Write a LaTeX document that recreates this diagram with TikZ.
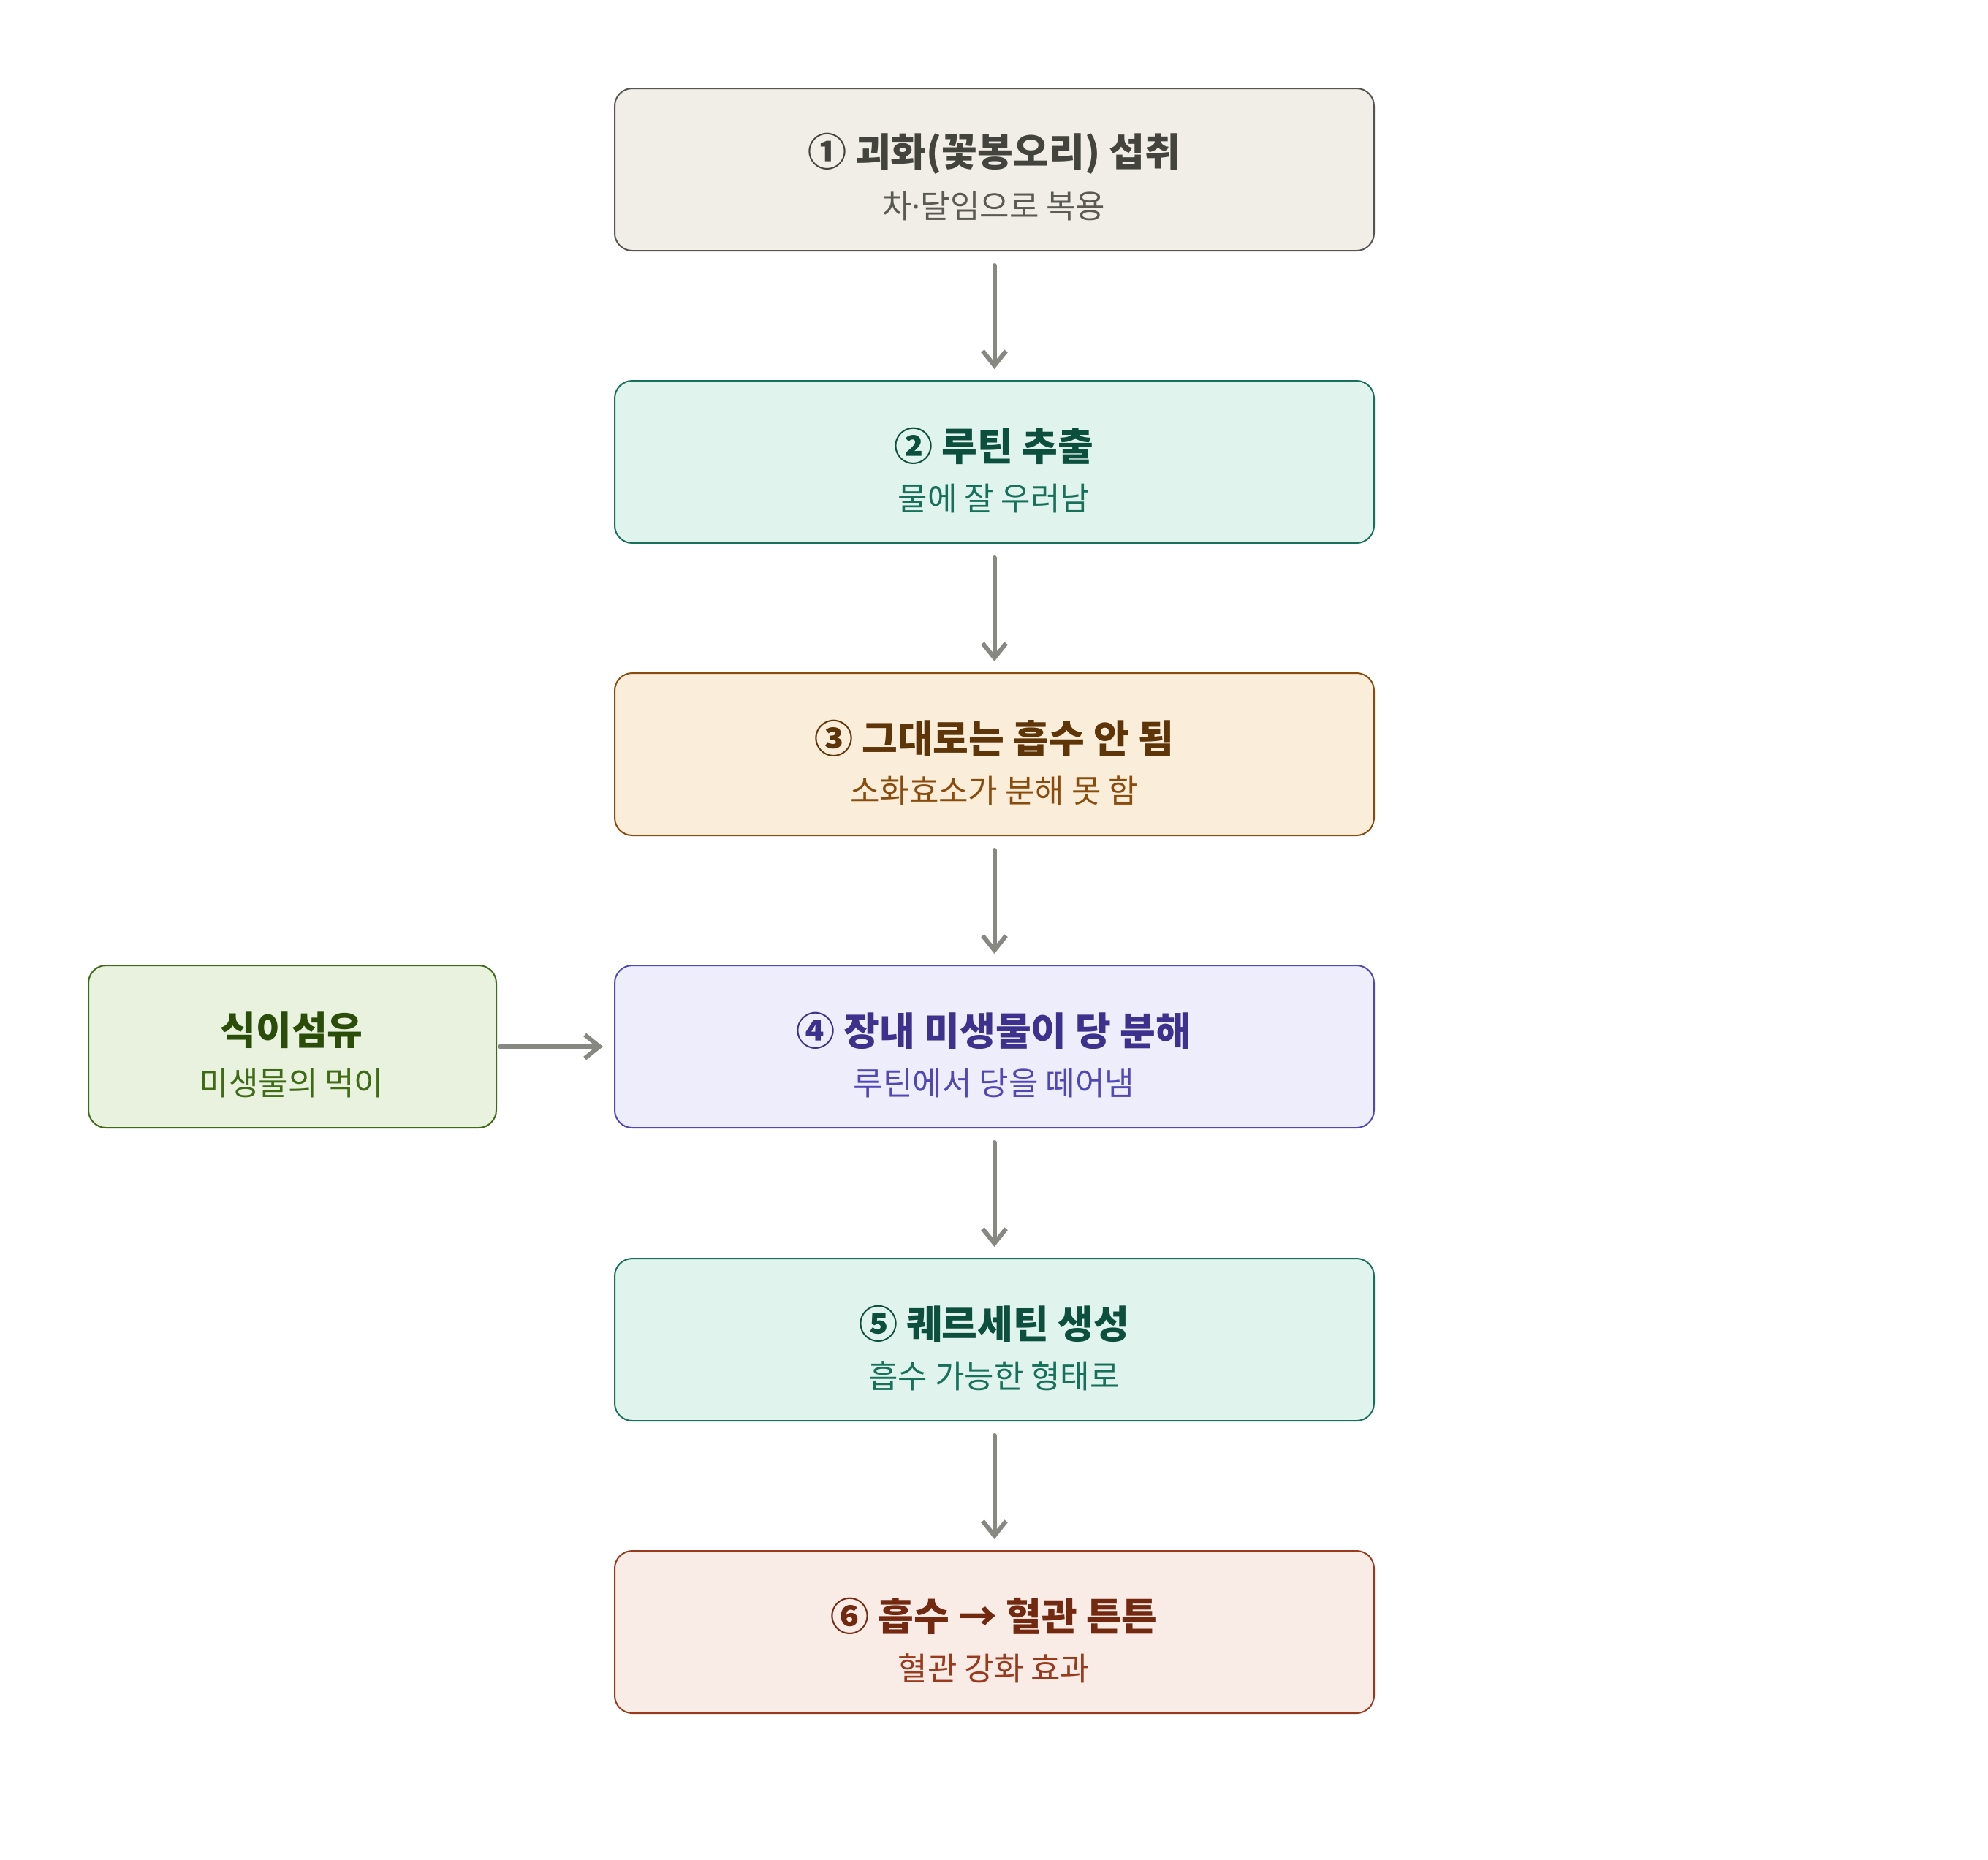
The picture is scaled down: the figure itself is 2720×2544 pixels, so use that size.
\documentclass[tikz,border=0pt]{standalone}
\usepackage{fontspec}
\setmainfont{Noto Sans CJK KR}
\newfontfamily\latinfont{Noto Sans}
\usetikzlibrary{arrows.meta}
\definecolor{arr}{HTML}{888883}
\definecolor{fA}{HTML}{F1EEE7}\definecolor{dA}{HTML}{55554F}\definecolor{tA}{HTML}{44443F}\definecolor{sA}{HTML}{5A5A55}
\definecolor{fB}{HTML}{E0F3EC}\definecolor{dB}{HTML}{17715A}\definecolor{tB}{HTML}{0B4F3C}\definecolor{sB}{HTML}{17705A}
\definecolor{fC}{HTML}{FAEDDA}\definecolor{dC}{HTML}{8A4C0C}\definecolor{tC}{HTML}{5E3508}\definecolor{sC}{HTML}{8A4C0C}
\definecolor{fD}{HTML}{EDEDFC}\definecolor{dD}{HTML}{5148B8}\definecolor{tD}{HTML}{3C318C}\definecolor{sD}{HTML}{5148B8}
\definecolor{fF}{HTML}{F9ECE6}\definecolor{dF}{HTML}{9A3A1C}\definecolor{tF}{HTML}{732810}\definecolor{sF}{HTML}{9A3A1C}
\definecolor{fG}{HTML}{E8F2DE}\definecolor{dG}{HTML}{3F6B14}\definecolor{tG}{HTML}{2B4D0A}\definecolor{sG}{HTML}{3F6B14}
\tikzset{
  boxstyle/.style={draw, line width=2pt, rounded corners=24pt, inner sep=0pt, anchor=north west},
  titlestyle/.style={font=\fontsize{53}{60}\selectfont\bfseries, inner sep=0pt, anchor=center},
  substyle/.style={font=\fontsize{44}{52}\selectfont, inner sep=0pt, anchor=center},
  flow/.style={draw=arr, line width=6pt, line cap=round, -{Straight Barb[length=20pt,width=32pt,line width=6pt]}}
}
\begin{document}
\begin{tikzpicture}[x=1pt,y=-1pt]
\useasboundingbox (0,0) rectangle (2720,2544);
% main boxes
\node[boxstyle, fill=fA, draw=dA, minimum width=1039pt, minimum height=222pt] (b1) at (840,120) {};
\node[boxstyle, fill=fB, draw=dB, minimum width=1039pt, minimum height=222pt] (b2) at (840,520) {};
\node[boxstyle, fill=fC, draw=dC, minimum width=1039pt, minimum height=222pt] (b3) at (840,920) {};
\node[boxstyle, fill=fD, draw=dD, minimum width=1039pt, minimum height=222pt] (b4) at (840,1320) {};
\node[boxstyle, fill=fB, draw=dB, minimum width=1039pt, minimum height=222pt] (b5) at (840,1721) {};
\node[boxstyle, fill=fF, draw=dF, minimum width=1039pt, minimum height=222pt] (b6) at (840,2121) {};
\node[boxstyle, fill=fG, draw=dG, minimum width=558pt, minimum height=222pt] (bg) at (120,1320) {};
% texts
\node[titlestyle, text=tA] (t1) at (1360,210) {① 괴화(꽃봉오리) 섭취};
\node[substyle, text=sA] (s1) at (1360,282) {차{\latinfont ·}달임으로 복용};
\node[titlestyle, text=tB] (t2) at (1360,610) {② 루틴 추출};
\node[substyle, text=sB] (s2) at (1360,682) {물에 잘 우러남};
\node[titlestyle, text=tC] (t3) at (1360,1010) {③ 그대로는 흡수 안 됨};
\node[substyle, text=sC] (s3) at (1360,1082) {소화효소가 분해 못 함};
\node[titlestyle, text=tD] (t4) at (1360,1410) {④ 장내 미생물이 당 분해};
\node[substyle, text=sD] (s4) at (1360,1482) {루틴에서 당을 떼어냄};
\node[titlestyle, text=tB] (t5) at (1360,1811) {⑤ 퀘르세틴 생성};
\node[substyle, text=sB] (s5) at (1360,1883) {흡수 가능한 형태로};
\node[titlestyle, text=tF] (t6) at (1360,2211) {⑥ 흡수 → 혈관 튼튼};
\node[substyle, text=sF] (s6) at (1360,2283) {혈관 강화 효과};
\node[titlestyle, text=tG] (tg) at (399,1410) {식이섬유};
\node[substyle, text=sG] (sg) at (399,1482) {미생물의 먹이};
% arrows
\draw[flow] ([yshift=-19pt]b1.south) -- ([yshift=15pt]b2.north);
\draw[flow] ([yshift=-19pt]b2.south) -- ([yshift=15pt]b3.north);
\draw[flow] ([yshift=-19pt]b3.south) -- ([yshift=15pt]b4.north);
\draw[flow] ([yshift=-19pt]b4.south) -- ([yshift=15pt]b5.north);
\draw[flow] ([yshift=-19pt]b5.south) -- ([yshift=15pt]b6.north);
\draw[flow] ([xshift=4pt]bg.east) -- ([xshift=-15pt]b4.west);
\end{tikzpicture}
\end{document}
